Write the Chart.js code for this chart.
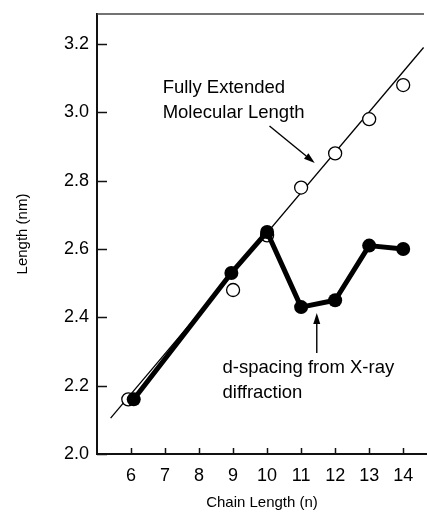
<!DOCTYPE html>
<html>
<head>
<meta charset="utf-8">
<script src="https://cdn.jsdelivr.net/npm/chart.js@4.4.1/dist/chart.umd.min.js"></script>
<style>
  body { margin: 0; background: #fff; }
  canvas { display: block; }
</style>
</head>
<body>
<canvas id="lengthgraph" width="427" height="512"></canvas>
<script>
// fully extended molecular length (open circles)
var chainFull = [5.92, 9, 10, 11, 12, 13, 14];
var lengthFull = [2.16, 2.48, 2.64, 2.78, 2.88, 2.98, 3.08];
// reference line through the open circles (two ends)
var chainRef = [5.4, 14.6];
var lengthRef = [2.105, 3.19];
// d-spacing from X-ray diffraction (filled circles)
var chainXray = [6.08, 8.95, 10, 11, 12, 13, 14];
var lengthXray = [2.16, 2.53, 2.65, 2.43, 2.45, 2.61, 2.60];
// tick labels
var xTicks = [6, 7, 8, 9, 10, 11, 12, 13, 14];
var yTicks = [2.0, 2.2, 2.4, 2.6, 2.8, 3.0, 3.2];

var fontFam = "'Liberation Sans', Arial, sans-serif";

function toPoints(xs, ys) {
    return xs.map(function (x, i) { return { x: x, y: ys[i] }; });
}

function arrow(ctx, x1, y1, x2, y2) {
    var ang = Math.atan2(y2 - y1, x2 - x1);
    var len = 11, half = 3.5;
    ctx.beginPath();
    ctx.moveTo(x1, y1);
    ctx.lineTo(x2 - Math.cos(ang) * len, y2 - Math.sin(ang) * len);
    ctx.stroke();
    ctx.beginPath();
    ctx.moveTo(x2, y2);
    ctx.lineTo(x2 - Math.cos(ang) * len - Math.sin(ang) * half, y2 - Math.sin(ang) * len + Math.cos(ang) * half);
    ctx.lineTo(x2 - Math.cos(ang) * len + Math.sin(ang) * half, y2 - Math.sin(ang) * len - Math.cos(ang) * half);
    ctx.closePath();
    ctx.fill();
}

// inward ticks, top frame line and the two labels with arrows
var decorations = {
    id: 'decorations',
    afterDraw: function (chart) {
        var ctx = chart.ctx, area = chart.chartArea;
        var sx = chart.scales.x, sy = chart.scales.y;
        ctx.save();
        ctx.strokeStyle = '#111';
        ctx.lineWidth = 1.5;
        ctx.beginPath();
        yTicks.forEach(function (v) {
            var y = Math.round(sy.getPixelForValue(v)) + 0.5;
            ctx.moveTo(area.left, y);
            ctx.lineTo(area.left + 10, y);
        });
        xTicks.forEach(function (v) {
            var x = Math.round(sx.getPixelForValue(v)) + 0.5;
            ctx.moveTo(x, area.bottom);
            ctx.lineTo(x, area.bottom - 6);
        });
        ctx.stroke();

        // top frame
        ctx.strokeStyle = '#444';
        ctx.beginPath();
        ctx.moveTo(area.left, area.top);
        ctx.lineTo(area.right - 3, area.top);
        ctx.stroke();

        // labels
        ctx.fillStyle = '#000';
        ctx.strokeStyle = '#000';
        ctx.font = '18.5px ' + fontFam;
        ctx.textAlign = 'left';
        ctx.textBaseline = 'alphabetic';
        var tx = sx.getPixelForValue(6.93), ty = sy.getPixelForValue(3.057);
        ctx.fillText('Fully Extended', tx, ty);
        ctx.fillText('Molecular Length', tx, ty + 25);
        ctx.lineWidth = 1.4;
        arrow(ctx, sx.getPixelForValue(10.07), sy.getPixelForValue(2.96),
                   sx.getPixelForValue(11.4), sy.getPixelForValue(2.852));

        tx = sx.getPixelForValue(8.69); ty = sy.getPixelForValue(2.237);
        ctx.fillText('d-spacing from X-ray', tx, ty);
        ctx.fillText('diffraction', tx, ty + 25);
        arrow(ctx, sx.getPixelForValue(11.46), sy.getPixelForValue(2.296),
                   sx.getPixelForValue(11.46), sy.getPixelForValue(2.413));
        ctx.restore();
    }
};

new Chart(document.getElementById('lengthgraph'), {
    type: 'line',
    data: {
        datasets: [{
                label: 'd-spacing',
                data: toPoints(chainXray, lengthXray),
                borderColor: '#000',
                backgroundColor: '#000',
                borderWidth: 5,
                borderJoinStyle: 'round',
                pointRadius: 7,
                pointBorderWidth: 0,
                order: 1
            },
            {
                label: 'fully extended',
                data: toPoints(chainFull, lengthFull),
                showLine: false,
                borderColor: '#000',
                backgroundColor: '#fff',
                pointRadius: 6.5,
                pointBorderWidth: 1.3,
                order: 2
            },
            {
                label: 'reference',
                data: toPoints(chainRef, lengthRef),
                borderColor: '#000',
                borderWidth: 1.3,
                pointRadius: 0,
                order: 3
            }
        ]
    },
    options: {
        responsive: false,
        animation: false,
        layout: { autoPadding: false, padding: { top: 14, right: 0, left: 0, bottom: 0 } },
        plugins: {
            legend: { display: false },
            tooltip: { enabled: false }
        },
        scales: {
            x: {
                type: 'linear',
                min: 5,
                max: 14.7,
                afterBuildTicks: function (scale) {
                    scale.ticks = xTicks.map(function (v) { return { value: v }; });
                },
                afterFit: function (scale) {
                    scale.height = 58;
                    scale.paddingLeft = 0;
                    scale.paddingRight = 0;
                },
                grid: { drawOnChartArea: false, drawTicks: false },
                border: { display: true, color: '#111', width: 2 },
                ticks: {
                    padding: 11,
                    color: '#000',
                    font: { family: fontFam, size: 18 }
                },
                title: {
                    display: true,
                    text: 'Chain Length (n)',
                    color: '#000',
                    font: { family: fontFam, size: 15 },
                    padding: { top: 0, bottom: 0 }
                }
            },
            y: {
                min: 2.0,
                max: 3.288,
                afterBuildTicks: function (scale) {
                    scale.ticks = yTicks.map(function (v) { return { value: v }; });
                },
                afterFit: function (scale) {
                    scale.width = 97;
                    scale.paddingTop = 0;
                    scale.paddingBottom = 0;
                },
                grid: { drawOnChartArea: false, drawTicks: false },
                border: { display: true, color: '#111', width: 2 },
                ticks: {
                    padding: 8,
                    color: '#000',
                    font: { family: fontFam, size: 18 },
                    callback: function (v) { return v.toFixed(1); }
                },
                title: {
                    display: true,
                    text: 'Length (nm)',
                    color: '#000',
                    font: { family: fontFam, size: 15 },
                    padding: { top: 14, bottom: 0 }
                }
            }
        }
    },
    plugins: [decorations]
});
</script>
</body>
</html>
